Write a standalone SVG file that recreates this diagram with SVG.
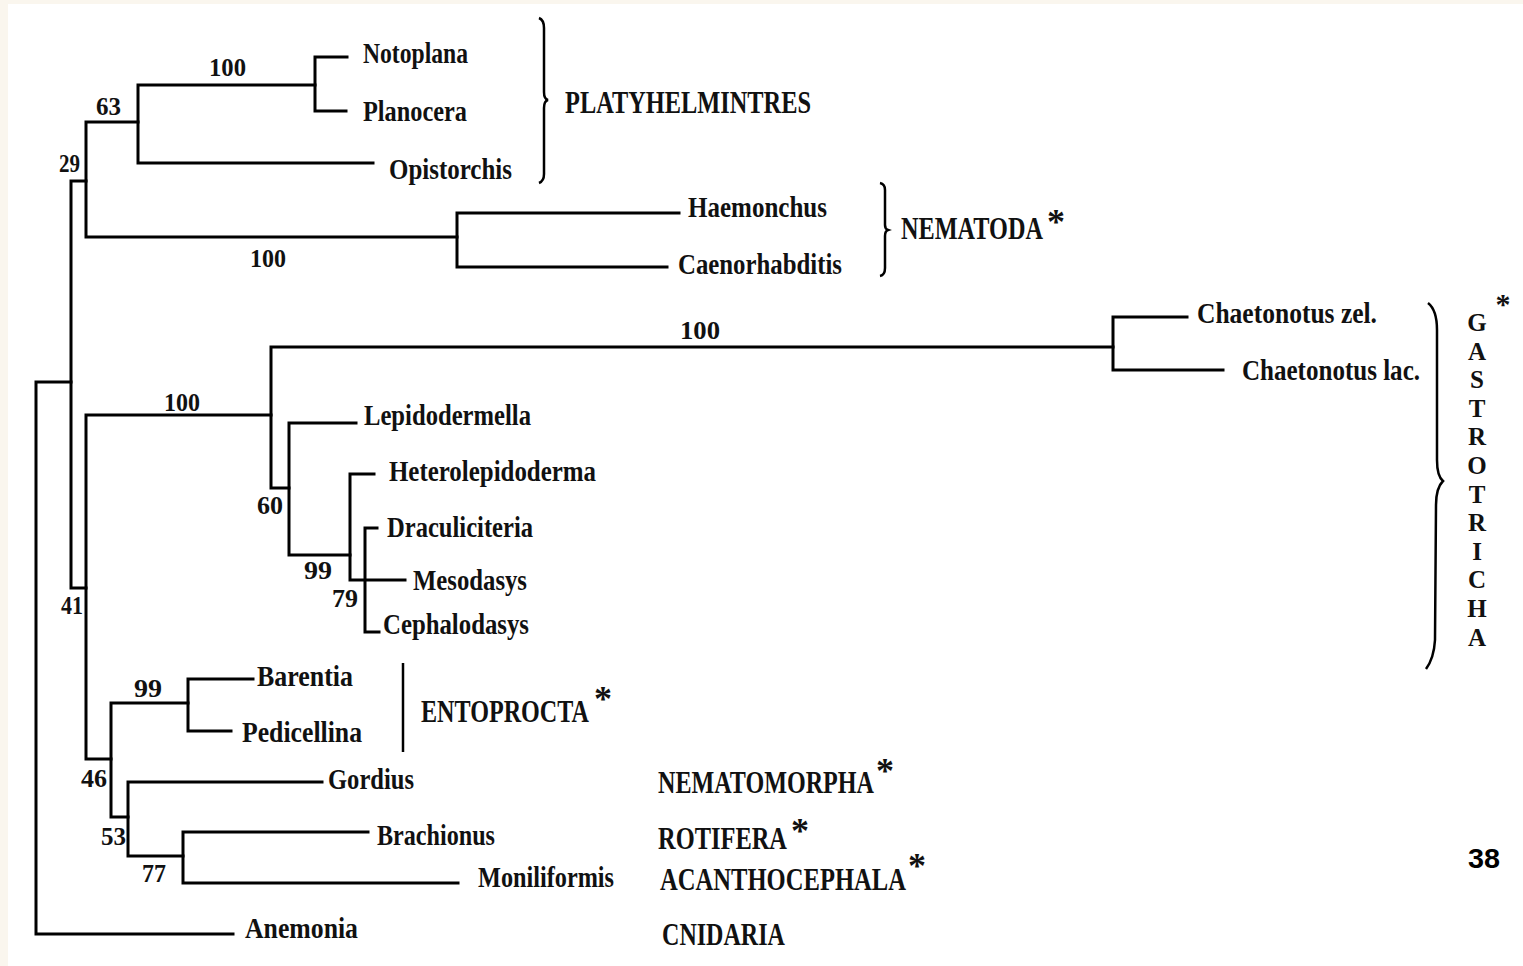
<svg xmlns="http://www.w3.org/2000/svg" width="1523" height="966" viewBox="0 0 1523 966">
<style>
.br{fill:none;stroke:#000;stroke-width:3;stroke-linecap:square}
.bk{fill:none;stroke:#000;stroke-width:2.5}
.sp{font-family:"Liberation Serif",serif;font-weight:bold;font-size:29px;fill:#111}
.cl{font-family:"Liberation Serif",serif;font-weight:bold;font-size:24px;fill:#111}
.nm{font-family:"Liberation Serif",serif;font-weight:bold;font-size:26px;fill:#111}
.ast{font-family:"Liberation Serif",serif;font-weight:bold;font-size:36px;fill:#111;text-anchor:middle}
.gl{font-family:"Liberation Serif",serif;font-weight:bold;font-size:25px;fill:#111;text-anchor:middle}
.pg{font-family:"Liberation Sans",sans-serif;font-weight:bold;font-size:27px;fill:#000}
</style>
<rect x="0" y="0" width="1523" height="966" fill="#faf6ee"/>
<rect x="8" y="4" width="1515" height="962" fill="#ffffff"/>
<g id="connectors">
<path class="br" d="M36,382 V934 H233 M36,382 H71"/>
<path class="br" d="M71,181 V588 M71,181 H86 M71,588 H86"/>
<path class="br" d="M86,122 V237 M86,122 H138 M86,237 H457"/>
<path class="br" d="M138,85 V163 M138,85 H315 M138,163 H373"/>
<path class="br" d="M315,57 V111 M315,57 H347 M315,111 H346"/>
<path class="br" d="M457,213 V267 M457,213 H679 M457,267 H667"/>
<path class="br" d="M86,415 V759 M86,415 H271 M86,759 H111"/>
<path class="br" d="M271,347 V488 M271,347 H1113 M271,488 H289"/>
<path class="br" d="M1113,317 V370 M1113,317 H1187 M1113,370 H1223"/>
<path class="br" d="M289,423 V555 M289,423 H356 M289,555 H350"/>
<path class="br" d="M350,474 V580 M350,474 H374 M350,580 H405"/>
<path class="br" d="M365,528 V632 M365,528 H377 M365,632 H379"/>
<path class="br" d="M111,703 V817 M111,703 H188 M111,817 H128"/>
<path class="br" d="M188,679 V731 M188,679 H253 M188,731 H231"/>
<path class="br" d="M128,782 V856 M128,782 H322 M128,856 H183"/>
<path class="br" d="M183,832 V883 M183,832 H368 M183,883 H458"/>
<path class="bk" d="M539,18 Q544,20 544,28 L544,92 Q544,99 548,100 Q544,101 544,108 L544,174 Q544,181 539,183"/>
<path class="bk" d="M880,183 Q885,184 885,190 L885,225 Q885,229 888,230 Q885,231 885,236 L885,268 Q885,275 880,276"/>
<path class="bk" d="M403,663 V752"/>
<path class="bk" d="M1428,303 Q1437,310 1437,330 L1437,460 Q1437,476 1443,481 Q1436,488 1436,505 L1435,640 Q1434,658 1426,669"/>
</g>
<g id="taxa">
<g id="t-notoplana"><text class="sp" x="363" y="63" textLength="105" lengthAdjust="spacingAndGlyphs">Notoplana</text></g>
<g id="t-planocera"><text class="sp" x="363" y="121" textLength="104" lengthAdjust="spacingAndGlyphs">Planocera</text></g>
<g id="t-opistorchis"><text class="sp" x="389" y="179" textLength="123" lengthAdjust="spacingAndGlyphs">Opistorchis</text></g>
<g id="t-haemonchus"><text class="sp" x="688" y="217" textLength="139" lengthAdjust="spacingAndGlyphs">Haemonchus</text></g>
<g id="t-caenorhabditis"><text class="sp" x="678" y="274" textLength="164" lengthAdjust="spacingAndGlyphs">Caenorhabditis</text></g>
<g id="t-chaetonotus-zel"><text class="sp" x="1197" y="323" textLength="180" lengthAdjust="spacingAndGlyphs">Chaetonotus zel.</text></g>
<g id="t-chaetonotus-lac"><text class="sp" x="1242" y="380" textLength="178" lengthAdjust="spacingAndGlyphs">Chaetonotus lac.</text></g>
<g id="t-lepidodermella"><text class="sp" x="364" y="425" textLength="167" lengthAdjust="spacingAndGlyphs">Lepidodermella</text></g>
<g id="t-heterolepidoderma"><text class="sp" x="389" y="481" textLength="207" lengthAdjust="spacingAndGlyphs">Heterolepidoderma</text></g>
<g id="t-draculiciteria"><text class="sp" x="387" y="537" textLength="146" lengthAdjust="spacingAndGlyphs">Draculiciteria</text></g>
<g id="t-mesodasys"><text class="sp" x="413" y="590" textLength="114" lengthAdjust="spacingAndGlyphs">Mesodasys</text></g>
<g id="t-cephalodasys"><text class="sp" x="383" y="634" textLength="146" lengthAdjust="spacingAndGlyphs">Cephalodasys</text></g>
<g id="t-barentia"><text class="sp" x="257" y="686" textLength="96" lengthAdjust="spacingAndGlyphs">Barentia</text></g>
<g id="t-pedicellina"><text class="sp" x="242" y="742" textLength="120" lengthAdjust="spacingAndGlyphs">Pedicellina</text></g>
<g id="t-gordius"><text class="sp" x="328" y="789" textLength="86" lengthAdjust="spacingAndGlyphs">Gordius</text></g>
<g id="t-brachionus"><text class="sp" x="377" y="845" textLength="118" lengthAdjust="spacingAndGlyphs">Brachionus</text></g>
<g id="t-moniliformis"><text class="sp" x="478" y="887" textLength="136" lengthAdjust="spacingAndGlyphs">Moniliformis</text></g>
<g id="t-anemonia"><text class="sp" x="245" y="938" textLength="113" lengthAdjust="spacingAndGlyphs">Anemonia</text></g>
</g>
<g id="clades">
<g id="c-platy"><text class="cl" transform="translate(565,113) scale(1,1.3)" textLength="246" lengthAdjust="spacingAndGlyphs">PLATYHELMINTRES</text></g>
<g id="c-nematoda"><text class="cl" transform="translate(901,239) scale(1,1.3)" textLength="142" lengthAdjust="spacingAndGlyphs">NEMATODA</text><text class="ast" x="1056" y="234">*</text></g>
<g id="c-gastrotricha">
<text class="gl" x="1477" y="331">G</text><text class="gl" x="1477" y="360">A</text><text class="gl" x="1477" y="388">S</text><text class="gl" x="1477" y="417">T</text><text class="gl" x="1477" y="445">R</text><text class="gl" x="1477" y="474">O</text><text class="gl" x="1477" y="503">T</text><text class="gl" x="1477" y="531">R</text><text class="gl" x="1477" y="560">I</text><text class="gl" x="1477" y="588">C</text><text class="gl" x="1477" y="617">H</text><text class="gl" x="1477" y="646">A</text>
<text class="gl" x="1503" y="314" style="font-size:30px">*</text>
</g>
<g id="c-entoprocta"><text class="cl" transform="translate(421,722) scale(1,1.3)" textLength="168" lengthAdjust="spacingAndGlyphs">ENTOPROCTA</text><text class="ast" x="603" y="711">*</text></g>
<g id="c-nematomorpha"><text class="cl" transform="translate(658,793) scale(1,1.3)" textLength="216" lengthAdjust="spacingAndGlyphs">NEMATOMORPHA</text><text class="ast" x="885" y="783">*</text></g>
<g id="c-rotifera"><text class="cl" transform="translate(658,849) scale(1,1.3)" textLength="129" lengthAdjust="spacingAndGlyphs">ROTIFERA</text><text class="ast" x="800" y="843">*</text></g>
<g id="c-acanthocephala"><text class="cl" transform="translate(660,890) scale(1,1.3)" textLength="246" lengthAdjust="spacingAndGlyphs">ACANTHOCEPHALA</text><text class="ast" x="917" y="878">*</text></g>
<g id="c-cnidaria"><text class="cl" transform="translate(662,945) scale(1,1.3)" textLength="123" lengthAdjust="spacingAndGlyphs">CNIDARIA</text></g>
</g>
<g id="support">
<g id="s-100a"><text class="nm" x="209" y="76" textLength="37" lengthAdjust="spacingAndGlyphs">100</text></g>
<g id="s-63"><text class="nm" x="96" y="115" textLength="25" lengthAdjust="spacingAndGlyphs">63</text></g>
<g id="s-29"><text class="nm" x="59" y="172" textLength="21" lengthAdjust="spacingAndGlyphs">29</text></g>
<g id="s-100b"><text class="nm" x="250" y="267" textLength="36" lengthAdjust="spacingAndGlyphs">100</text></g>
<g id="s-100c"><text class="nm" x="680" y="339" textLength="40" lengthAdjust="spacingAndGlyphs">100</text></g>
<g id="s-100d"><text class="nm" x="164" y="411" textLength="36" lengthAdjust="spacingAndGlyphs">100</text></g>
<g id="s-60"><text class="nm" x="257" y="514" textLength="26" lengthAdjust="spacingAndGlyphs">60</text></g>
<g id="s-99a"><text class="nm" x="304" y="579" textLength="28" lengthAdjust="spacingAndGlyphs">99</text></g>
<g id="s-79"><text class="nm" x="332" y="607" textLength="26" lengthAdjust="spacingAndGlyphs">79</text></g>
<g id="s-41"><text class="nm" x="61" y="614" textLength="22" lengthAdjust="spacingAndGlyphs">41</text></g>
<g id="s-99b"><text class="nm" x="134" y="697" textLength="28" lengthAdjust="spacingAndGlyphs">99</text></g>
<g id="s-46"><text class="nm" x="81" y="787" textLength="26" lengthAdjust="spacingAndGlyphs">46</text></g>
<g id="s-53"><text class="nm" x="101" y="845" textLength="25" lengthAdjust="spacingAndGlyphs">53</text></g>
<g id="s-77"><text class="nm" x="142" y="882" textLength="24" lengthAdjust="spacingAndGlyphs">77</text></g>
</g>
<g id="page"><text class="pg" x="1468" y="868" textLength="32" lengthAdjust="spacingAndGlyphs">38</text></g>
</svg>
